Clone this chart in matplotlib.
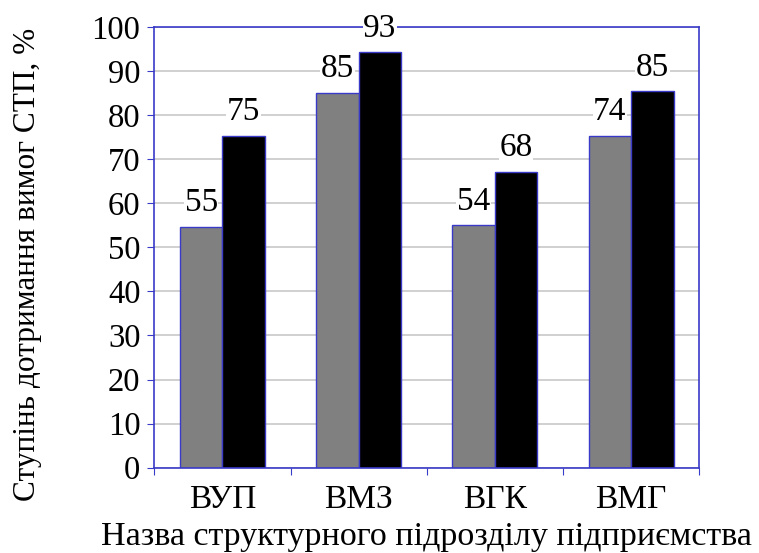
import matplotlib
matplotlib.use('Agg')
import matplotlib.pyplot as plt
import numpy as np

categories = ['ВУП', 'ВМЗ', 'ВГК', 'ВМГ']
gray_values = [54.7, 85.1, 55.0, 75.3]
black_values = [75.3, 94.3, 67.2, 85.5]
gray_labels = ['55', '85', '54', '74']
black_labels = ['75', '93', '68', '85']
y_ticks = list(range(0, 101, 10))

blue = '#3a3ac8'

plt.rcParams['font.family'] = ['Liberation Serif', 'DejaVu Serif']

fig = plt.figure(figsize=(7.59, 5.53), dpi=100)
ax = fig.add_axes([0.2033, 0.1543, 0.9213 - 0.2033, 0.9512 - 0.1543])

x = np.arange(len(categories))
width = 0.312
gray_bars = ax.bar(x - width / 2, gray_values, width, color='#808080',
                   edgecolor=blue, linewidth=1.0, zorder=2)
black_bars = ax.bar(x + width / 2, black_values, width, color='black',
                    edgecolor=blue, linewidth=1.0, zorder=2)

for bars, labels in [(gray_bars, gray_labels), (black_bars, black_labels)]:
    for bar, lab in zip(bars, labels):
        ax.annotate(lab, (bar.get_x() + bar.get_width() / 2, bar.get_height()),
                    xytext=(0, 17), textcoords='offset points',
                    ha='center', va='center', fontsize=24,
                    bbox=dict(facecolor='white', edgecolor='none', pad=0.5),
                    zorder=4, annotation_clip=False)

ax.set_xlim(-0.5, len(categories) - 0.5)
ax.set_ylim(0, 100)
ax.set_yticks(y_ticks)
ax.set_yticklabels([str(t) for t in y_ticks], fontsize=23.5)
ax.yaxis.grid(True, color='#c8c8c8', linewidth=1.2, zorder=0)
ax.set_axisbelow(True)

ax.set_xticks(np.arange(-0.5, len(categories), 1.0))
ax.set_xticklabels([])
ax.set_xticks(x, minor=True)
ax.set_xticklabels(categories, minor=True, fontsize=24)
ax.tick_params(axis='x', which='minor', length=0, pad=12)
ax.tick_params(axis='x', which='major', direction='out', length=5, color=blue)
ax.tick_params(axis='y', direction='out', length=5, color=blue, pad=5)

for s in ax.spines.values():
    s.set_color(blue)
    s.set_linewidth(1.2)

ax.set_ylabel('Ступінь дотримання вимог СТП, %', fontsize=22.5)
ax.yaxis.label.set_verticalalignment('center')
ax.yaxis.set_label_coords(-0.2336, 0.462)
ax.set_xlabel('Назва структурного підрозділу підприємства', fontsize=24.5, labelpad=5)

fig.savefig('out.png', dpi=100)
